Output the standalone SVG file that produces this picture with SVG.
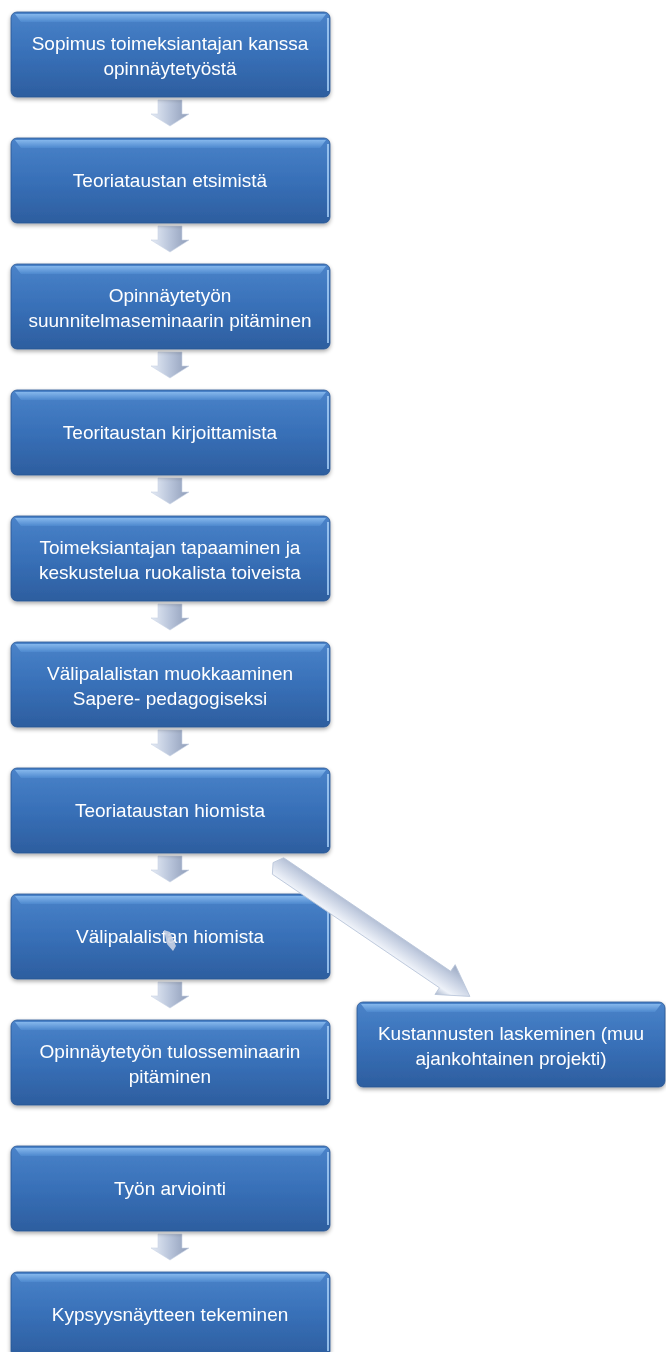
<svg xmlns="http://www.w3.org/2000/svg" width="666" height="1352" viewBox="0 0 666 1352">
<defs>
<linearGradient id="boxg" x1="0" y1="0" x2="0" y2="1">
<stop offset="0" stop-color="#4a83c9"/>
<stop offset="0.5" stop-color="#3870b8"/>
<stop offset="1" stop-color="#2d5e9f"/>
</linearGradient>
<linearGradient id="topg" x1="0" y1="0" x2="0" y2="1">
<stop offset="0" stop-color="#8fc0f2"/>
<stop offset="1" stop-color="#4f8ad0"/>
</linearGradient>
<linearGradient id="arrg" x1="0" y1="0" x2="1" y2="0">
<stop offset="0" stop-color="#e6ecf6"/>
<stop offset="0.5" stop-color="#b8c4da"/>
<stop offset="1" stop-color="#8e9cb8"/>
</linearGradient>
<linearGradient id="arrd" x1="0" y1="0" x2="0" y2="1">
<stop offset="0" stop-color="#9aa8c2"/>
<stop offset="0.35" stop-color="#c3cde0"/>
<stop offset="0.75" stop-color="#eef2f9"/>
<stop offset="1" stop-color="#a9b6cc"/>
</linearGradient>
<filter id="sh" x="-5%" y="-10%" width="110%" height="130%">
<feGaussianBlur in="SourceAlpha" stdDeviation="2"/>
<feOffset dy="2" result="b"/>
<feComponentTransfer><feFuncA type="linear" slope="0.35"/></feComponentTransfer>
<feMerge><feMergeNode/><feMergeNode in="SourceGraphic"/></feMerge>
</filter>
</defs>
<style>
.box{fill:url(#boxg);stroke:#2a5592;stroke-width:0.8}
.top{fill:url(#topg);opacity:0.85}
.edge{stroke:#a8d0f8;stroke-width:2;opacity:0.8}
.t{font-family:"Liberation Sans",Arial,sans-serif;font-size:19px;fill:#ffffff;text-anchor:middle}
.arr{fill:url(#arrg);stroke:#c9d3e4;stroke-width:0.6}
</style>
<g id="connectors">
<polygon class="arr" points="158,100 182,100 182,114 189,114 170,126 151,114 158,114"/>
<polygon class="arr" points="158,226 182,226 182,240 189,240 170,252 151,240 158,240"/>
<polygon class="arr" points="158,352 182,352 182,366 189,366 170,378 151,366 158,366"/>
<polygon class="arr" points="158,478 182,478 182,492 189,492 170,504 151,492 158,492"/>
<polygon class="arr" points="158,604 182,604 182,618 189,618 170,630 151,618 158,618"/>
<polygon class="arr" points="158,730 182,730 182,744 189,744 170,756 151,744 158,744"/>
<polygon class="arr" points="158,856 182,856 182,870 189,870 170,882 151,870 158,870"/>
<polygon class="arr" points="158,982 182,982 182,996 189,996 170,1008 151,996 158,996"/>
<polygon class="arr" points="158,1234 182,1234 182,1248 189,1248 170,1260 151,1248 158,1248"/>
</g>
<g id="n1" filter="url(#sh)"><rect class="box" x="11" y="12" width="319" height="85" rx="6"/><path class="top" d="M15,14 H326 L320,22 H21 Z"/><line class="edge" x1="328" y1="18" x2="328" y2="91"/><text class="t" x="170" y="50">Sopimus toimeksiantajan kanssa</text><text class="t" x="170" y="75">opinnäytetyöstä</text></g>
<g id="n2" filter="url(#sh)"><rect class="box" x="11" y="138" width="319" height="85" rx="6"/><path class="top" d="M15,140 H326 L320,148 H21 Z"/><line class="edge" x1="328" y1="144" x2="328" y2="217"/><text class="t" x="170" y="187">Teoriataustan etsimistä</text></g>
<g id="n3" filter="url(#sh)"><rect class="box" x="11" y="264" width="319" height="85" rx="6"/><path class="top" d="M15,266 H326 L320,274 H21 Z"/><line class="edge" x1="328" y1="270" x2="328" y2="343"/><text class="t" x="170" y="302">Opinnäytetyön</text><text class="t" x="170" y="327">suunnitelmaseminaarin pitäminen</text></g>
<g id="n4" filter="url(#sh)"><rect class="box" x="11" y="390" width="319" height="85" rx="6"/><path class="top" d="M15,392 H326 L320,400 H21 Z"/><line class="edge" x1="328" y1="396" x2="328" y2="469"/><text class="t" x="170" y="439">Teoritaustan kirjoittamista</text></g>
<g id="n5" filter="url(#sh)"><rect class="box" x="11" y="516" width="319" height="85" rx="6"/><path class="top" d="M15,518 H326 L320,526 H21 Z"/><line class="edge" x1="328" y1="522" x2="328" y2="595"/><text class="t" x="170" y="554">Toimeksiantajan tapaaminen ja</text><text class="t" x="170" y="579">keskustelua ruokalista toiveista</text></g>
<g id="n6" filter="url(#sh)"><rect class="box" x="11" y="642" width="319" height="85" rx="6"/><path class="top" d="M15,644 H326 L320,652 H21 Z"/><line class="edge" x1="328" y1="648" x2="328" y2="721"/><text class="t" x="170" y="680">Välipalalistan muokkaaminen</text><text class="t" x="170" y="705">Sapere- pedagogiseksi</text></g>
<g id="n7" filter="url(#sh)"><rect class="box" x="11" y="768" width="319" height="85" rx="6"/><path class="top" d="M15,770 H326 L320,778 H21 Z"/><line class="edge" x1="328" y1="774" x2="328" y2="847"/><text class="t" x="170" y="817">Teoriataustan hiomista</text></g>
<g id="n8" filter="url(#sh)"><rect class="box" x="11" y="894" width="319" height="85" rx="6"/><path class="top" d="M15,896 H326 L320,904 H21 Z"/><line class="edge" x1="328" y1="900" x2="328" y2="973"/><text class="t" x="170" y="943">Välipalalistan hiomista</text><polygon points="164,930 170,932 176,946 173,951 167,944" fill="#c9d2e3" opacity="0.9"/></g>
<g id="n9" filter="url(#sh)"><rect class="box" x="11" y="1020" width="319" height="85" rx="6"/><path class="top" d="M15,1022 H326 L320,1030 H21 Z"/><line class="edge" x1="328" y1="1026" x2="328" y2="1099"/><text class="t" x="170" y="1058">Opinnäytetyön tulosseminaarin</text><text class="t" x="170" y="1083">pitäminen</text></g>
<g id="n10" filter="url(#sh)"><rect class="box" x="11" y="1146" width="319" height="85" rx="6"/><path class="top" d="M15,1148 H326 L320,1156 H21 Z"/><line class="edge" x1="328" y1="1152" x2="328" y2="1225"/><text class="t" x="170" y="1195">Työn arviointi</text></g>
<g id="n11" filter="url(#sh)"><rect class="box" x="11" y="1272" width="319" height="85" rx="6"/><path class="top" d="M15,1274 H326 L320,1282 H21 Z"/><line class="edge" x1="328" y1="1278" x2="328" y2="1351"/><text class="t" x="170" y="1321">Kypsyysnäytteen tekeminen</text></g>
<g id="n12" filter="url(#sh)"><rect class="box" x="357" y="1002" width="308" height="85" rx="6"/><path class="top" d="M361,1004 H661 L655,1012 H367 Z"/><text class="t" x="511" y="1040">Kustannusten laskeminen (muu</text><text class="t" x="511" y="1065">ajankohtainen projekti)</text></g>
<g id="diag">
<g transform="translate(278,866) rotate(34.2)">
<polygon points="0,-10 202,-10 202,-18 232,0 202,18 202,10 0,10 -6,0" fill="url(#arrd)" stroke="#b9c5da" stroke-width="0.8"/>
</g>
</g>
</svg>
